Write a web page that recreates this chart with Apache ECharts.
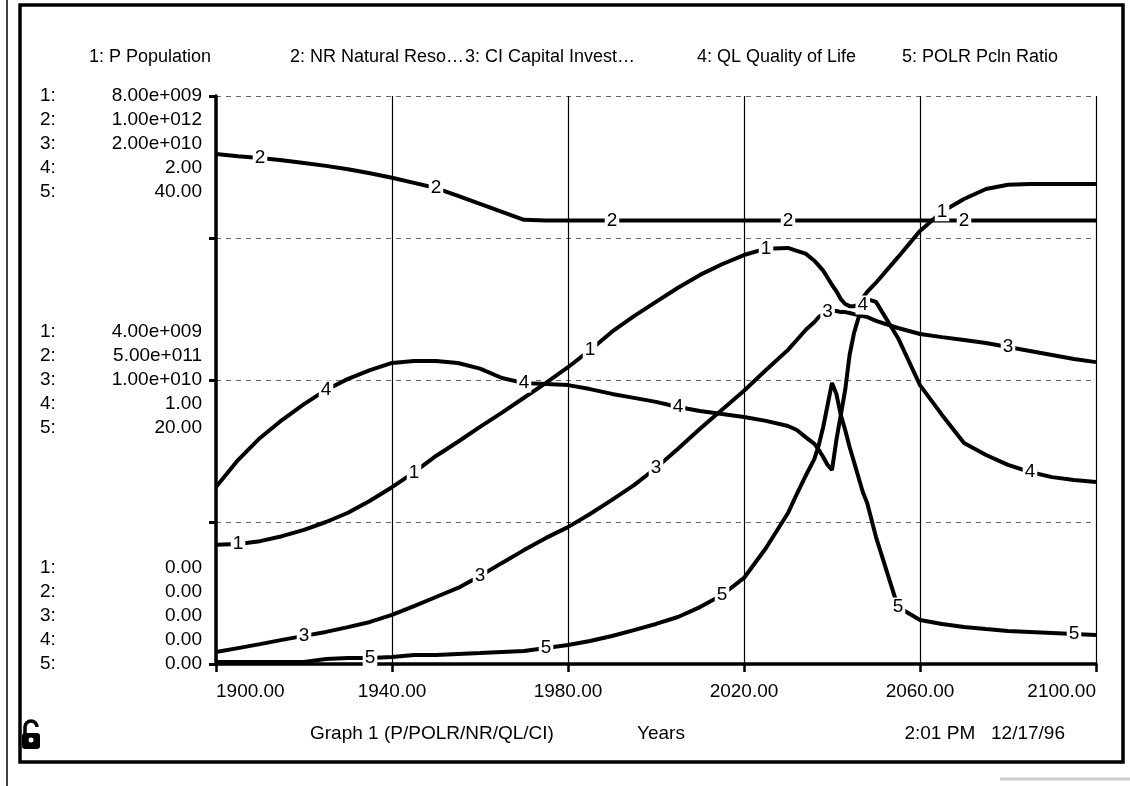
<!DOCTYPE html>
<html>
<head>
<meta charset="utf-8">
<script src="https://cdn.jsdelivr.net/npm/echarts@6/dist/echarts.min.js"></script>
<style>
html, body { margin: 0; padding: 0; background: #fff; }
#main { width: 1130px; height: 786px; }
</style>
</head>
<body>
<div id="main"></div>
<script>
// simulation years (5 year steps, yearly around the 2040 crash)
var years = [1900, 1905, 1910, 1915, 1920, 1925, 1930, 1935, 1940, 1945, 1950, 1955, 1960, 1965, 1970,
  1975, 1980, 1985, 1990, 1995, 2000, 2005, 2010, 2015, 2020, 2025, 2030,
  2032, 2034, 2036, 2037, 2038, 2039, 2040, 2041, 2042, 2043, 2044, 2045, 2046, 2047, 2048,
  2050, 2055, 2060, 2065, 2070, 2075, 2080, 2085, 2090, 2095, 2100];

// 1: P Population, billions
var pop = [1.68, 1.69, 1.73, 1.80, 1.89, 2.00, 2.13, 2.30, 2.49, 2.70, 2.93, 3.13, 3.34, 3.54, 3.75,
  3.96, 4.18, 4.42, 4.68, 4.90, 5.10, 5.30, 5.48, 5.63, 5.76, 5.85, 5.86,
  5.82, 5.78, 5.68, 5.61, 5.54, 5.44, 5.34, 5.25, 5.14, 5.07, 5.04, 5.04, 5.06, 5.16, 5.24,
  5.37, 5.73, 6.10, 6.37, 6.55, 6.69, 6.75, 6.76, 6.76, 6.76, 6.76];

// 2: NR Natural Resources, x 1e12
var natRes = [0.898, 0.894, 0.891, 0.887, 0.882, 0.877, 0.871, 0.864, 0.856, 0.847, 0.838, 0.824, 0.810, 0.796, 0.782,
  0.781, 0.781, 0.781, 0.781, 0.781, 0.781, 0.781, 0.781, 0.781, 0.781, 0.781, 0.781,
  0.781, 0.781, 0.781, 0.781, 0.781, 0.781, 0.781, 0.781, 0.781, 0.781, 0.781, 0.781, 0.781, 0.781, 0.781,
  0.781, 0.781, 0.781, 0.781, 0.781, 0.781, 0.781, 0.781, 0.781, 0.781, 0.781];

// 3: CI Capital Investment, x 1e10
var capInv = [0.042, 0.056, 0.070, 0.085, 0.099, 0.113, 0.130, 0.148, 0.173, 0.204, 0.236, 0.268, 0.310, 0.356, 0.401,
  0.444, 0.482, 0.528, 0.578, 0.630, 0.690, 0.758, 0.828, 0.895, 0.962, 1.035, 1.106,
  1.141, 1.176, 1.204, 1.222, 1.232, 1.239, 1.243, 1.243, 1.239, 1.239, 1.236, 1.232, 1.229, 1.225, 1.222,
  1.208, 1.183, 1.162, 1.151, 1.141, 1.130, 1.116, 1.102, 1.088, 1.074, 1.063];

// 4: QL Quality of Life
var qualLife = [0.623, 0.718, 0.796, 0.859, 0.915, 0.965, 1.004, 1.035, 1.060, 1.067, 1.067, 1.060, 1.040, 1.007, 0.989,
  0.986, 0.982, 0.968, 0.951, 0.937, 0.923, 0.905, 0.891, 0.880, 0.870, 0.856, 0.838,
  0.824, 0.799, 0.775, 0.754, 0.729, 0.701, 0.683, 0.789, 0.877, 0.965, 1.088, 1.165, 1.218, 1.264, 1.285,
  1.275, 1.148, 0.982, 0.877, 0.778, 0.736, 0.701, 0.676, 0.658, 0.648, 0.641];

// 5: POLR Pollution Ratio
var polRatio = [0.14, 0.14, 0.14, 0.14, 0.14, 0.35, 0.42, 0.42, 0.49, 0.63, 0.63, 0.70, 0.77, 0.85, 0.92,
  1.13, 1.34, 1.62, 1.97, 2.39, 2.82, 3.31, 4.01, 4.86, 6.06, 8.17, 10.63,
  11.97, 13.24, 14.44, 15.42, 16.69, 18.24, 19.79, 19.01, 17.54, 16.48, 15.28, 14.23, 13.17, 12.11, 11.34,
  8.94, 4.01, 3.10, 2.82, 2.61, 2.46, 2.32, 2.25, 2.18, 2.11, 2.04];

var seriesNames = ['1: P Population', '2: NR Natural Reso\u2026', '3: CI Capital Invest\u2026', '4: QL Quality of Life', '5: POLR Pcln Ratio'];
var axisMax = [8, 1, 2, 2, 40];

// tick labels of the stacked scale
var topTicks = ['8.00e+009', '1.00e+012', '2.00e+010', '2.00', '40.00'];
var midTicks = ['4.00e+009', '5.00e+011', '1.00e+010', '1.00', '20.00'];
var botTicks = ['0.00', '0.00', '0.00', '0.00', '0.00'];

// years where the curve number is written on the line
var labelYears = [
  [1905, 1945, 1985, 2025, 2065],
  [1910, 1950, 1990, 2030, 2070],
  [1920, 1960, 2000, 2039, 2080],
  [1925, 1970, 2005, 2047, 2085],
  [1935, 1975, 2015, 2055, 2095]
];

var font = '"Liberation Sans", Arial, sans-serif';
var allVals = [pop, natRes, capInv, qualLife, polRatio];
var headerLeft = [89, 290, 465, 697, 902];

function buildData(vals, k) {
  return vals.map(function (v, i) {
    var item = { value: [years[i], v] };
    if (labelYears[k].indexOf(years[i]) >= 0) {
      item.label = { show: true };
    }
    return item;
  });
}

function yLabel(value) {
  var rows;
  if (value === 8) rows = topTicks;
  else if (value === 4) rows = midTicks;
  else if (value === 0) rows = botTicks;
  else return '';
  var lines = rows.map(function (t, i) { return '{n|' + (i + 1) + ':}{v|' + t + '}'; });
  if (value === 8) return '\n\n\n\n' + lines.join('\n');
  if (value === 0) return lines.join('\n') + '\n\n\n\n';
  return lines.join('\n');
}

var txt = { fontSize: 19, fontWeight: 'normal', color: '#000', fontFamily: font };

var titles = seriesNames.map(function (name, i) {
  return { text: name, left: headerLeft[i], top: 48, padding: 0,
    textStyle: { fontSize: 18, fontWeight: 'normal', color: '#000', fontFamily: font } };
});
titles.push({ text: 'Graph 1 (P/POLR/NR/QL/CI)', left: 310, top: 724, padding: 0, textStyle: txt });
titles.push({ text: 'Years', left: 637, top: 724, padding: 0, textStyle: txt });
titles.push({ text: '2:01 PM   12/17/96', right: 65, top: 724, padding: 0, textStyle: txt });

var yAxes = axisMax.map(function (mx, k) {
  if (k > 0) return { type: 'value', min: 0, max: mx, show: false };
  return {
    type: 'value', min: 0, max: mx, interval: 2,
    axisLine: { show: true, lineStyle: { color: '#000', width: 3.5 } },
    axisTick: { show: true, length: 7, lineStyle: { color: '#000', width: 3 } },
    splitLine: { show: true, lineStyle: { color: '#666', width: 1, type: [5, 5] } },
    axisLabel: {
      show: true, margin: 14, hideOverlap: false, formatter: yLabel,
      color: '#000', fontSize: 19, fontFamily: font, lineHeight: 24,
      rich: {
        n: { width: 62, align: 'left', fontSize: 19, fontFamily: font, lineHeight: 24, color: '#000' },
        v: { width: 100, align: 'right', fontSize: 19, fontFamily: font, lineHeight: 24, color: '#000' }
      }
    }
  };
});

var option = {
  animation: false,
  backgroundColor: '#fff',
  title: titles,
  grid: { left: 216, right: 34, top: 96, bottom: 122, outerBoundsMode: 'none', containLabel: false },
  xAxis: {
    type: 'value', min: 1900, max: 2100, interval: 40,
    axisLine: { show: true, lineStyle: { color: '#000', width: 3.5 } },
    axisTick: { show: true, length: 8, lineStyle: { color: '#000', width: 2.5 } },
    splitLine: { show: true, lineStyle: { color: '#000', width: 1.2 } },
    axisLabel: {
      margin: 18, hideOverlap: false, color: '#000', fontSize: 19, fontFamily: font,
      alignMinLabel: 'left', alignMaxLabel: 'right',
      formatter: function (v) { return v.toFixed(2); }
    }
  },
  yAxis: yAxes,
  series: allVals.map(function (vals, k) {
    return {
      type: 'line', name: seriesNames[k], yAxisIndex: k,
      data: buildData(vals, k),
      symbol: 'circle', symbolSize: 1, showSymbol: true,
      lineStyle: { color: '#000', width: 4 },
      itemStyle: { color: '#000' },
      label: {
        show: false, position: 'inside', formatter: String(k + 1),
        color: '#000', backgroundColor: '#fff', padding: [0, 2, 0, 2],
        fontSize: 19, fontFamily: font
      },
      silent: true
    };
  }),
  graphic: [
    { type: 'line', shape: { x1: 7, y1: 0, x2: 7, y2: 786 }, style: { stroke: '#000', lineWidth: 1.5 } },
    { type: 'rect', shape: { x: 20, y: 5, width: 1103, height: 757 }, style: { fill: null, stroke: '#000', lineWidth: 3.5 } },
    { type: 'line', shape: { x1: 1000, y1: 779, x2: 1130, y2: 779 }, style: { stroke: '#ccc', lineWidth: 3 } },
    { type: 'arc', shape: { cx: 31, cy: 727, r: 6, startAngle: Math.PI, endAngle: Math.PI * 2 }, style: { stroke: '#000', fill: null, lineWidth: 3.5 } },
    { type: 'line', shape: { x1: 25, y1: 727, x2: 25, y2: 734 }, style: { stroke: '#000', lineWidth: 3.5 } },
    { type: 'rect', shape: { x: 22, y: 733, width: 18, height: 16, r: 3 }, style: { fill: '#000' } },
    { type: 'circle', shape: { cx: 31, cy: 740, r: 2.5 }, style: { fill: '#fff' } }
  ]
};

var chart = echarts.init(document.getElementById('main'));
chart.setOption(option);
</script>
</body>
</html>
